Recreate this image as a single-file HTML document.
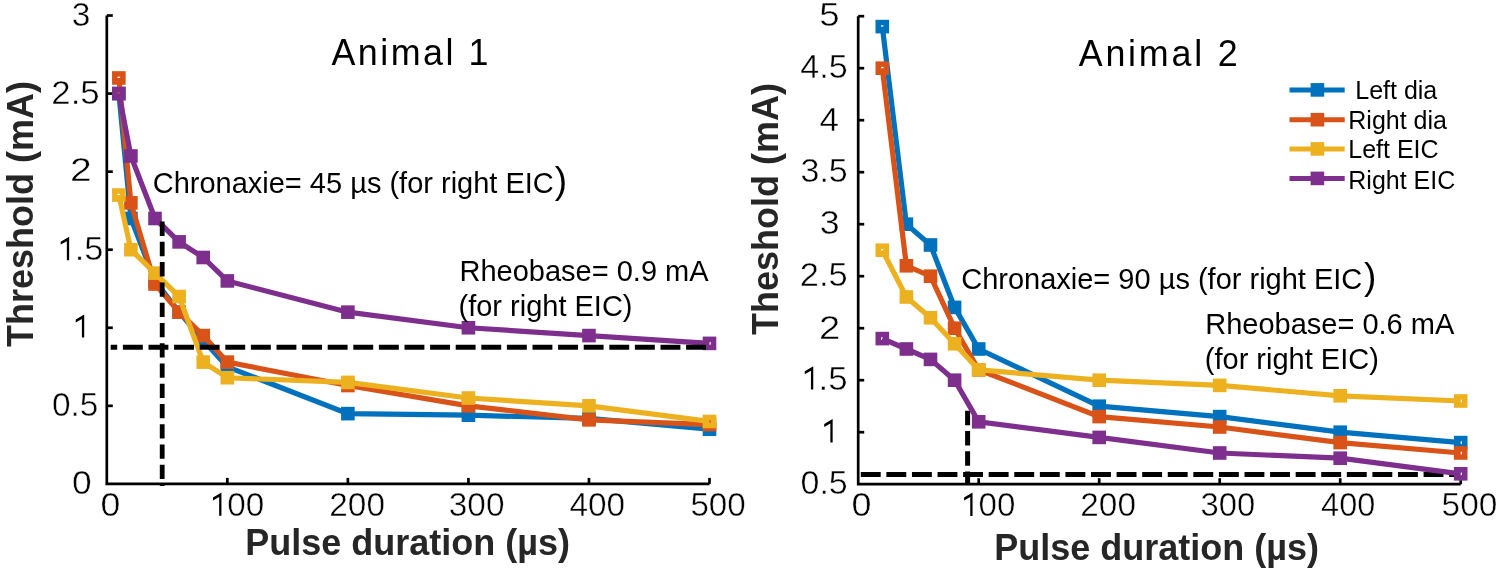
<!DOCTYPE html><html><head><meta charset="utf-8"><style>html,body{margin:0;padding:0;background:#fff;width:1500px;height:570px;overflow:hidden}svg{display:block;will-change:transform}text{font-family:"Liberation Sans",sans-serif}</style></head><body>
<svg width="1500" height="570" viewBox="0 0 1500 570">
<rect width="1500" height="570" fill="#fff"/>
<path d="M106.80,15.51 V483.90 H709.50" fill="none" stroke="#000" stroke-width="2.7" stroke-linejoin="miter"/>
<line x1="106.80" y1="405.83" x2="112.80" y2="405.83" stroke="#000" stroke-width="2.7"/>
<line x1="106.80" y1="327.77" x2="112.80" y2="327.77" stroke="#000" stroke-width="2.7"/>
<line x1="106.80" y1="249.70" x2="112.80" y2="249.70" stroke="#000" stroke-width="2.7"/>
<line x1="106.80" y1="171.64" x2="112.80" y2="171.64" stroke="#000" stroke-width="2.7"/>
<line x1="106.80" y1="93.57" x2="112.80" y2="93.57" stroke="#000" stroke-width="2.7"/>
<line x1="106.80" y1="15.51" x2="112.80" y2="15.51" stroke="#000" stroke-width="2.7"/>
<line x1="227.34" y1="483.90" x2="227.34" y2="477.90" stroke="#000" stroke-width="2.7"/>
<line x1="347.88" y1="483.90" x2="347.88" y2="477.90" stroke="#000" stroke-width="2.7"/>
<line x1="468.42" y1="483.90" x2="468.42" y2="477.90" stroke="#000" stroke-width="2.7"/>
<line x1="588.96" y1="483.90" x2="588.96" y2="477.90" stroke="#000" stroke-width="2.7"/>
<line x1="709.50" y1="483.90" x2="709.50" y2="477.90" stroke="#000" stroke-width="2.7"/>
<path d="M858.20,16.20 V484.20 H1460.70" fill="none" stroke="#000" stroke-width="2.7" stroke-linejoin="miter"/>
<line x1="858.20" y1="432.20" x2="864.20" y2="432.20" stroke="#000" stroke-width="2.7"/>
<line x1="858.20" y1="380.20" x2="864.20" y2="380.20" stroke="#000" stroke-width="2.7"/>
<line x1="858.20" y1="328.20" x2="864.20" y2="328.20" stroke="#000" stroke-width="2.7"/>
<line x1="858.20" y1="276.20" x2="864.20" y2="276.20" stroke="#000" stroke-width="2.7"/>
<line x1="858.20" y1="224.20" x2="864.20" y2="224.20" stroke="#000" stroke-width="2.7"/>
<line x1="858.20" y1="172.20" x2="864.20" y2="172.20" stroke="#000" stroke-width="2.7"/>
<line x1="858.20" y1="120.20" x2="864.20" y2="120.20" stroke="#000" stroke-width="2.7"/>
<line x1="858.20" y1="68.20" x2="864.20" y2="68.20" stroke="#000" stroke-width="2.7"/>
<line x1="858.20" y1="16.20" x2="864.20" y2="16.20" stroke="#000" stroke-width="2.7"/>
<line x1="978.70" y1="484.20" x2="978.70" y2="478.20" stroke="#000" stroke-width="2.7"/>
<line x1="1099.20" y1="484.20" x2="1099.20" y2="478.20" stroke="#000" stroke-width="2.7"/>
<line x1="1219.70" y1="484.20" x2="1219.70" y2="478.20" stroke="#000" stroke-width="2.7"/>
<line x1="1340.20" y1="484.20" x2="1340.20" y2="478.20" stroke="#000" stroke-width="2.7"/>
<line x1="1460.70" y1="484.20" x2="1460.70" y2="478.20" stroke="#000" stroke-width="2.7"/>
<polyline points="118.85,93.57 130.91,218.48 155.02,280.93 179.12,312.16 203.23,340.26 227.34,366.80 347.88,413.64 468.42,415.20 588.96,418.33 709.50,429.25" fill="none" stroke="#0072BD" stroke-width="5.2" stroke-linejoin="miter" stroke-miterlimit="2"/>
<rect x="114.80" y="89.52" width="8.10" height="8.10" fill="none" stroke="#0072BD" stroke-width="5.5"/>
<rect x="126.86" y="214.43" width="8.10" height="8.10" fill="none" stroke="#0072BD" stroke-width="5.5"/>
<rect x="150.97" y="276.88" width="8.10" height="8.10" fill="none" stroke="#0072BD" stroke-width="5.5"/>
<rect x="175.07" y="308.11" width="8.10" height="8.10" fill="none" stroke="#0072BD" stroke-width="5.5"/>
<rect x="199.18" y="336.21" width="8.10" height="8.10" fill="none" stroke="#0072BD" stroke-width="5.5"/>
<rect x="223.29" y="362.75" width="8.10" height="8.10" fill="none" stroke="#0072BD" stroke-width="5.5"/>
<rect x="343.83" y="409.59" width="8.10" height="8.10" fill="none" stroke="#0072BD" stroke-width="5.5"/>
<rect x="464.37" y="411.15" width="8.10" height="8.10" fill="none" stroke="#0072BD" stroke-width="5.5"/>
<rect x="584.91" y="414.28" width="8.10" height="8.10" fill="none" stroke="#0072BD" stroke-width="5.5"/>
<rect x="705.45" y="425.20" width="8.10" height="8.10" fill="none" stroke="#0072BD" stroke-width="5.5"/>
<polyline points="118.85,77.96 130.91,202.87 155.02,284.05 179.12,312.16 203.23,335.58 227.34,362.12 347.88,385.54 468.42,405.83 588.96,419.89 709.50,424.57" fill="none" stroke="#D95319" stroke-width="5.2" stroke-linejoin="miter" stroke-miterlimit="2"/>
<rect x="114.80" y="73.91" width="8.10" height="8.10" fill="none" stroke="#D95319" stroke-width="5.5"/>
<rect x="126.86" y="198.82" width="8.10" height="8.10" fill="none" stroke="#D95319" stroke-width="5.5"/>
<rect x="150.97" y="280.00" width="8.10" height="8.10" fill="none" stroke="#D95319" stroke-width="5.5"/>
<rect x="175.07" y="308.11" width="8.10" height="8.10" fill="none" stroke="#D95319" stroke-width="5.5"/>
<rect x="199.18" y="331.53" width="8.10" height="8.10" fill="none" stroke="#D95319" stroke-width="5.5"/>
<rect x="223.29" y="358.07" width="8.10" height="8.10" fill="none" stroke="#D95319" stroke-width="5.5"/>
<rect x="343.83" y="381.49" width="8.10" height="8.10" fill="none" stroke="#D95319" stroke-width="5.5"/>
<rect x="464.37" y="401.78" width="8.10" height="8.10" fill="none" stroke="#D95319" stroke-width="5.5"/>
<rect x="584.91" y="415.84" width="8.10" height="8.10" fill="none" stroke="#D95319" stroke-width="5.5"/>
<rect x="705.45" y="420.52" width="8.10" height="8.10" fill="none" stroke="#D95319" stroke-width="5.5"/>
<polyline points="118.85,195.06 130.91,249.70 155.02,273.12 179.12,296.54 203.23,362.12 227.34,377.73 347.88,382.42 468.42,398.03 588.96,405.83 709.50,421.45" fill="none" stroke="#EDB120" stroke-width="5.2" stroke-linejoin="miter" stroke-miterlimit="2"/>
<rect x="114.80" y="191.01" width="8.10" height="8.10" fill="none" stroke="#EDB120" stroke-width="5.5"/>
<rect x="126.86" y="245.65" width="8.10" height="8.10" fill="none" stroke="#EDB120" stroke-width="5.5"/>
<rect x="150.97" y="269.07" width="8.10" height="8.10" fill="none" stroke="#EDB120" stroke-width="5.5"/>
<rect x="175.07" y="292.49" width="8.10" height="8.10" fill="none" stroke="#EDB120" stroke-width="5.5"/>
<rect x="199.18" y="358.07" width="8.10" height="8.10" fill="none" stroke="#EDB120" stroke-width="5.5"/>
<rect x="223.29" y="373.68" width="8.10" height="8.10" fill="none" stroke="#EDB120" stroke-width="5.5"/>
<rect x="343.83" y="378.37" width="8.10" height="8.10" fill="none" stroke="#EDB120" stroke-width="5.5"/>
<rect x="464.37" y="393.98" width="8.10" height="8.10" fill="none" stroke="#EDB120" stroke-width="5.5"/>
<rect x="584.91" y="401.78" width="8.10" height="8.10" fill="none" stroke="#EDB120" stroke-width="5.5"/>
<rect x="705.45" y="417.40" width="8.10" height="8.10" fill="none" stroke="#EDB120" stroke-width="5.5"/>
<polyline points="118.85,93.57 130.91,156.03 155.02,218.48 179.12,241.90 203.23,257.51 227.34,280.93 347.88,312.16 468.42,327.77 588.96,335.58 709.50,343.38" fill="none" stroke="#7E2F8E" stroke-width="5.2" stroke-linejoin="miter" stroke-miterlimit="2"/>
<rect x="114.80" y="89.52" width="8.10" height="8.10" fill="none" stroke="#7E2F8E" stroke-width="5.5"/>
<rect x="126.86" y="151.98" width="8.10" height="8.10" fill="none" stroke="#7E2F8E" stroke-width="5.5"/>
<rect x="150.97" y="214.43" width="8.10" height="8.10" fill="none" stroke="#7E2F8E" stroke-width="5.5"/>
<rect x="175.07" y="237.85" width="8.10" height="8.10" fill="none" stroke="#7E2F8E" stroke-width="5.5"/>
<rect x="199.18" y="253.46" width="8.10" height="8.10" fill="none" stroke="#7E2F8E" stroke-width="5.5"/>
<rect x="223.29" y="276.88" width="8.10" height="8.10" fill="none" stroke="#7E2F8E" stroke-width="5.5"/>
<rect x="343.83" y="308.11" width="8.10" height="8.10" fill="none" stroke="#7E2F8E" stroke-width="5.5"/>
<rect x="464.37" y="323.72" width="8.10" height="8.10" fill="none" stroke="#7E2F8E" stroke-width="5.5"/>
<rect x="584.91" y="331.53" width="8.10" height="8.10" fill="none" stroke="#7E2F8E" stroke-width="5.5"/>
<rect x="705.45" y="339.33" width="8.10" height="8.10" fill="none" stroke="#7E2F8E" stroke-width="5.5"/>
<line x1="110.7" y1="347.2" x2="706.3" y2="347.2" stroke="#000" stroke-width="5" stroke-dasharray="19.9 5.7" stroke-dashoffset="13.4"/>
<line x1="162.2" y1="221.6" x2="162.2" y2="486" stroke="#000" stroke-width="4.8" stroke-dasharray="14.4 5.86"/>
<line x1="967.6" y1="410.8" x2="967.6" y2="485" stroke="#000" stroke-width="5" stroke-dasharray="14.4 5.86"/>
<line x1="860.8" y1="474.4" x2="1455" y2="474.4" stroke="#000" stroke-width="5" stroke-dasharray="19.9 5.68"/>
<polyline points="882.30,26.60 906.40,224.20 930.50,245.00 954.60,307.40 978.70,349.00 1099.20,406.20 1219.70,416.60 1340.20,432.20 1460.70,442.60" fill="none" stroke="#0072BD" stroke-width="5.2" stroke-linejoin="miter" stroke-miterlimit="2"/>
<rect x="878.25" y="22.55" width="8.10" height="8.10" fill="none" stroke="#0072BD" stroke-width="5.5"/>
<rect x="902.35" y="220.15" width="8.10" height="8.10" fill="none" stroke="#0072BD" stroke-width="5.5"/>
<rect x="926.45" y="240.95" width="8.10" height="8.10" fill="none" stroke="#0072BD" stroke-width="5.5"/>
<rect x="950.55" y="303.35" width="8.10" height="8.10" fill="none" stroke="#0072BD" stroke-width="5.5"/>
<rect x="974.65" y="344.95" width="8.10" height="8.10" fill="none" stroke="#0072BD" stroke-width="5.5"/>
<rect x="1095.15" y="402.15" width="8.10" height="8.10" fill="none" stroke="#0072BD" stroke-width="5.5"/>
<rect x="1215.65" y="412.55" width="8.10" height="8.10" fill="none" stroke="#0072BD" stroke-width="5.5"/>
<rect x="1336.15" y="428.15" width="8.10" height="8.10" fill="none" stroke="#0072BD" stroke-width="5.5"/>
<rect x="1456.65" y="438.55" width="8.10" height="8.10" fill="none" stroke="#0072BD" stroke-width="5.5"/>
<polyline points="882.30,68.20 906.40,265.80 930.50,276.20 954.60,328.20 978.70,369.80 1099.20,416.60 1219.70,427.00 1340.20,442.60 1460.70,453.00" fill="none" stroke="#D95319" stroke-width="5.2" stroke-linejoin="miter" stroke-miterlimit="2"/>
<rect x="878.25" y="64.15" width="8.10" height="8.10" fill="none" stroke="#D95319" stroke-width="5.5"/>
<rect x="902.35" y="261.75" width="8.10" height="8.10" fill="none" stroke="#D95319" stroke-width="5.5"/>
<rect x="926.45" y="272.15" width="8.10" height="8.10" fill="none" stroke="#D95319" stroke-width="5.5"/>
<rect x="950.55" y="324.15" width="8.10" height="8.10" fill="none" stroke="#D95319" stroke-width="5.5"/>
<rect x="974.65" y="365.75" width="8.10" height="8.10" fill="none" stroke="#D95319" stroke-width="5.5"/>
<rect x="1095.15" y="412.55" width="8.10" height="8.10" fill="none" stroke="#D95319" stroke-width="5.5"/>
<rect x="1215.65" y="422.95" width="8.10" height="8.10" fill="none" stroke="#D95319" stroke-width="5.5"/>
<rect x="1336.15" y="438.55" width="8.10" height="8.10" fill="none" stroke="#D95319" stroke-width="5.5"/>
<rect x="1456.65" y="448.95" width="8.10" height="8.10" fill="none" stroke="#D95319" stroke-width="5.5"/>
<polyline points="882.30,250.20 906.40,297.00 930.50,317.80 954.60,343.80 978.70,369.80 1099.20,380.20 1219.70,385.40 1340.20,395.80 1460.70,401.00" fill="none" stroke="#EDB120" stroke-width="5.2" stroke-linejoin="miter" stroke-miterlimit="2"/>
<rect x="878.25" y="246.15" width="8.10" height="8.10" fill="none" stroke="#EDB120" stroke-width="5.5"/>
<rect x="902.35" y="292.95" width="8.10" height="8.10" fill="none" stroke="#EDB120" stroke-width="5.5"/>
<rect x="926.45" y="313.75" width="8.10" height="8.10" fill="none" stroke="#EDB120" stroke-width="5.5"/>
<rect x="950.55" y="339.75" width="8.10" height="8.10" fill="none" stroke="#EDB120" stroke-width="5.5"/>
<rect x="974.65" y="365.75" width="8.10" height="8.10" fill="none" stroke="#EDB120" stroke-width="5.5"/>
<rect x="1095.15" y="376.15" width="8.10" height="8.10" fill="none" stroke="#EDB120" stroke-width="5.5"/>
<rect x="1215.65" y="381.35" width="8.10" height="8.10" fill="none" stroke="#EDB120" stroke-width="5.5"/>
<rect x="1336.15" y="391.75" width="8.10" height="8.10" fill="none" stroke="#EDB120" stroke-width="5.5"/>
<rect x="1456.65" y="396.95" width="8.10" height="8.10" fill="none" stroke="#EDB120" stroke-width="5.5"/>
<polyline points="882.30,338.60 906.40,349.00 930.50,359.40 954.60,380.20 978.70,421.80 1099.20,437.40 1219.70,453.00 1340.20,458.20 1460.70,473.80" fill="none" stroke="#7E2F8E" stroke-width="5.2" stroke-linejoin="miter" stroke-miterlimit="2"/>
<rect x="878.25" y="334.55" width="8.10" height="8.10" fill="none" stroke="#7E2F8E" stroke-width="5.5"/>
<rect x="902.35" y="344.95" width="8.10" height="8.10" fill="none" stroke="#7E2F8E" stroke-width="5.5"/>
<rect x="926.45" y="355.35" width="8.10" height="8.10" fill="none" stroke="#7E2F8E" stroke-width="5.5"/>
<rect x="950.55" y="376.15" width="8.10" height="8.10" fill="none" stroke="#7E2F8E" stroke-width="5.5"/>
<rect x="974.65" y="417.75" width="8.10" height="8.10" fill="none" stroke="#7E2F8E" stroke-width="5.5"/>
<rect x="1095.15" y="433.35" width="8.10" height="8.10" fill="none" stroke="#7E2F8E" stroke-width="5.5"/>
<rect x="1215.65" y="448.95" width="8.10" height="8.10" fill="none" stroke="#7E2F8E" stroke-width="5.5"/>
<rect x="1336.15" y="454.15" width="8.10" height="8.10" fill="none" stroke="#7E2F8E" stroke-width="5.5"/>
<rect x="1456.65" y="469.75" width="8.10" height="8.10" fill="none" stroke="#7E2F8E" stroke-width="5.5"/>
<path d="M84.20,337.60 V314.50 L75.75,319.50 V322.40 L81.90,318.95 V337.60 Z" fill="#000"/>
<path d="M69.15,260.20 V236.70 L60.70,241.70 V244.60 L66.85,241.15 V260.20 Z" fill="#000"/>
<path d="M832.65,442.60 V419.10 L824.20,424.10 V427.00 L830.35,423.55 V442.60 Z" fill="#000"/>
<path d="M813.25,389.50 V366.30 L804.80,371.30 V374.20 L810.95,370.75 V389.50 Z" fill="#000"/>
<path d="M221.45,515.70 V492.50 L213.00,497.50 V500.40 L219.15,496.95 V515.70 Z" fill="#000"/>
<path d="M972.55,516.00 V492.50 L964.10,497.50 V500.40 L970.25,496.95 V516.00 Z" fill="#000"/>
<text x="71.80" y="26.05" font-size="33" font-weight="400" fill="#000" stroke="#fff" stroke-width="0.45" textLength="18.65" lengthAdjust="spacingAndGlyphs">3</text>
<text x="51.30" y="103.80" font-size="33" font-weight="400" fill="#000" stroke="#fff" stroke-width="0.45" textLength="48.38" lengthAdjust="spacingAndGlyphs">2.5</text>
<text x="70.10" y="181.00" font-size="33" font-weight="400" fill="#000" stroke="#fff" stroke-width="0.45" textLength="21.75" lengthAdjust="spacingAndGlyphs">2</text>
<text x="74.70" y="260.30" font-size="33" font-weight="400" fill="#000" stroke="#fff" stroke-width="0.45" textLength="28.72" lengthAdjust="spacingAndGlyphs">.5</text>
<text x="51.90" y="416.20" font-size="33" font-weight="400" fill="#000" stroke="#fff" stroke-width="0.45" textLength="46.47" lengthAdjust="spacingAndGlyphs">0.5</text>
<text x="71.90" y="493.70" font-size="33" font-weight="400" fill="#000" stroke="#fff" stroke-width="0.45" textLength="19.65" lengthAdjust="spacingAndGlyphs">0</text>
<text x="819.30" y="25.50" font-size="33" font-weight="400" fill="#000" stroke="#fff" stroke-width="0.45" textLength="20.35" lengthAdjust="spacingAndGlyphs">5</text>
<text x="800.30" y="77.50" font-size="33" font-weight="400" fill="#000" stroke="#fff" stroke-width="0.45" textLength="47.38" lengthAdjust="spacingAndGlyphs">4.5</text>
<text x="819.60" y="131.00" font-size="33" font-weight="400" fill="#000" stroke="#fff" stroke-width="0.45" textLength="19.45" lengthAdjust="spacingAndGlyphs">4</text>
<text x="800.50" y="181.60" font-size="33" font-weight="400" fill="#000" stroke="#fff" stroke-width="0.45" textLength="47.27" lengthAdjust="spacingAndGlyphs">3.5</text>
<text x="819.80" y="234.00" font-size="33" font-weight="400" fill="#000" stroke="#fff" stroke-width="0.45" textLength="19.85" lengthAdjust="spacingAndGlyphs">3</text>
<text x="799.80" y="286.00" font-size="33" font-weight="400" fill="#000" stroke="#fff" stroke-width="0.45" textLength="47.88" lengthAdjust="spacingAndGlyphs">2.5</text>
<text x="819.00" y="338.50" font-size="33" font-weight="400" fill="#000" stroke="#fff" stroke-width="0.45" textLength="21.25" lengthAdjust="spacingAndGlyphs">2</text>
<text x="818.50" y="390.00" font-size="33" font-weight="400" fill="#000" stroke="#fff" stroke-width="0.45" textLength="29.02" lengthAdjust="spacingAndGlyphs">.5</text>
<text x="800.50" y="494.30" font-size="33" font-weight="400" fill="#000" stroke="#fff" stroke-width="0.45" textLength="47.27" lengthAdjust="spacingAndGlyphs">0.5</text>
<text x="100.60" y="516.00" font-size="33" font-weight="400" fill="#000" stroke="#fff" stroke-width="0.45" textLength="19.85" lengthAdjust="spacingAndGlyphs">0</text>
<text x="227.30" y="516.00" font-size="33" font-weight="400" fill="#000" stroke="#fff" stroke-width="0.45" textLength="37.01" lengthAdjust="spacingAndGlyphs">00</text>
<text x="329.30" y="516.00" font-size="33" font-weight="400" fill="#000" stroke="#fff" stroke-width="0.45" textLength="55.66" lengthAdjust="spacingAndGlyphs">200</text>
<text x="448.80" y="516.00" font-size="33" font-weight="400" fill="#000" stroke="#fff" stroke-width="0.45" textLength="55.66" lengthAdjust="spacingAndGlyphs">300</text>
<text x="569.40" y="516.00" font-size="33" font-weight="400" fill="#000" stroke="#fff" stroke-width="0.45" textLength="55.66" lengthAdjust="spacingAndGlyphs">400</text>
<text x="690.40" y="516.00" font-size="33" font-weight="400" fill="#000" stroke="#fff" stroke-width="0.45" textLength="55.36" lengthAdjust="spacingAndGlyphs">500</text>
<text x="851.40" y="516.40" font-size="33" font-weight="400" fill="#000" stroke="#fff" stroke-width="0.45" textLength="19.95" lengthAdjust="spacingAndGlyphs">0</text>
<text x="978.50" y="516.40" font-size="33" font-weight="400" fill="#000" stroke="#fff" stroke-width="0.45" textLength="36.81" lengthAdjust="spacingAndGlyphs">00</text>
<text x="1080.30" y="516.40" font-size="33" font-weight="400" fill="#000" stroke="#fff" stroke-width="0.45" textLength="55.66" lengthAdjust="spacingAndGlyphs">200</text>
<text x="1200.50" y="516.40" font-size="33" font-weight="400" fill="#000" stroke="#fff" stroke-width="0.45" textLength="54.66" lengthAdjust="spacingAndGlyphs">300</text>
<text x="1321.10" y="516.40" font-size="33" font-weight="400" fill="#000" stroke="#fff" stroke-width="0.45" textLength="54.16" lengthAdjust="spacingAndGlyphs">400</text>
<text x="1441.60" y="516.40" font-size="33" font-weight="400" fill="#000" stroke="#fff" stroke-width="0.45" textLength="55.66" lengthAdjust="spacingAndGlyphs">500</text>
<text x="245.30" y="554.80" font-size="36" font-weight="700" fill="#262626" >Pulse duration (µs)</text>
<text x="994.30" y="560.30" font-size="36" font-weight="700" fill="#262626" >Pulse duration (µs)</text>
<text x="0.00" y="0.00" font-size="36" font-weight="700" fill="#262626" transform="translate(32.5,347) rotate(-90)">Threshold (mA)</text>
<text x="0.00" y="0.00" font-size="36" font-weight="700" fill="#262626" transform="translate(777.7,335.1) rotate(-90)">Theshold (mA)</text>
<text x="0.00" y="0.00" font-size="37" font-weight="400" fill="#000" transform="translate(331.4,65.4) scale(0.97,1)" textLength="161.9" lengthAdjust="spacing" stroke="none">Animal 1</text>
<text x="0.00" y="0.00" font-size="37" font-weight="400" fill="#000" transform="translate(1078.7,65.7) scale(0.97,1)" textLength="163.9" lengthAdjust="spacing" stroke="none">Animal 2</text>
<text x="152.70" y="193.40" font-size="29" font-weight="400" fill="#000" >Chronaxie= 45 µs (for right EIC</text>
<text x="554.70" y="193.40" font-size="37" font-weight="400" fill="#000" >)</text>
<text x="961.20" y="288.70" font-size="29" font-weight="400" fill="#000" >Chronaxie= 90 µs (for right EIC</text>
<text x="1364.00" y="288.70" font-size="37" font-weight="400" fill="#000" >)</text>
<text x="459.50" y="280.80" font-size="29" font-weight="400" fill="#000" >Rheobase= 0.9 mA</text>
<text x="458.50" y="316.30" font-size="29" font-weight="400" fill="#000" >(for right EIC)</text>
<text x="1205.20" y="333.60" font-size="29" font-weight="400" fill="#000" >Rheobase= 0.6 mA</text>
<text x="1204.80" y="369.10" font-size="29" font-weight="400" fill="#000" >(for right EIC)</text>
<line x1="1289.5" y1="89.9" x2="1344.7" y2="89.9" stroke="#0072BD" stroke-width="5"/>
<rect x="1310.6000000000001" y="83.10000000000001" width="13.6" height="13.6" fill="#0072BD"/>
<text x="1348.3" y="98.5" font-size="25" fill="#000" xml:space="preserve"> Left dia</text>
<line x1="1289.5" y1="119.7" x2="1344.7" y2="119.7" stroke="#D95319" stroke-width="5"/>
<rect x="1310.6000000000001" y="112.9" width="13.6" height="13.6" fill="#D95319"/>
<text x="1348.3" y="129.3" font-size="25" fill="#000" xml:space="preserve">Right dia</text>
<line x1="1289.5" y1="148.9" x2="1344.7" y2="148.9" stroke="#EDB120" stroke-width="5"/>
<rect x="1310.6000000000001" y="142.1" width="13.6" height="13.6" fill="#EDB120"/>
<text x="1348.3" y="157.8" font-size="25" fill="#000" xml:space="preserve">Left EIC</text>
<line x1="1289.5" y1="178.4" x2="1344.7" y2="178.4" stroke="#7E2F8E" stroke-width="5"/>
<rect x="1310.6000000000001" y="171.6" width="13.6" height="13.6" fill="#7E2F8E"/>
<text x="1348.3" y="188.6" font-size="25" fill="#000" xml:space="preserve">Right EIC</text>
</svg></body></html>
